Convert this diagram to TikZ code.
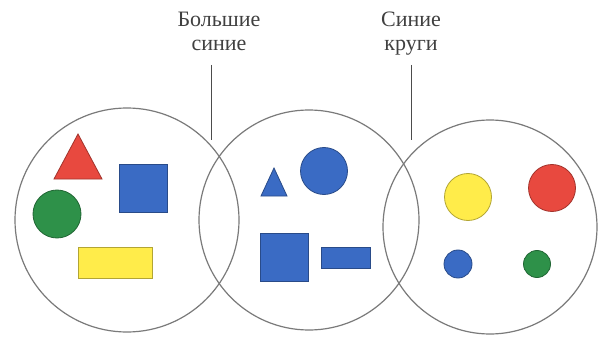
\documentclass[tikz,border=0pt]{standalone}
\usepackage{fontspec}
\setmainfont{Liberation Serif}
\usetikzlibrary{shapes.geometric}
\definecolor{cred}{HTML}{E8493F}
\definecolor{cblue}{HTML}{3A6BC4}
\definecolor{cgreen}{HTML}{2E9149}
\definecolor{cyellow}{HTML}{FFEC4A}
\definecolor{cgray}{HTML}{7A7A7A}
\tikzset{
  venn/.style={circle, draw=cgray, line width=1.2pt, inner sep=0pt, minimum size=#1},
  lab/.style={align=center, text=black!75, font=\fontsize{22}{23.5}\selectfont, inner sep=0pt},
  pin/.style={draw=black!70, line width=1pt},
  fshape/.style={draw=#1!70!black, fill=#1, line width=0.8pt, inner sep=0pt},
}
\begin{document}
\begin{tikzpicture}[x=1pt,y=-1pt]
\useasboundingbox (0,0) rectangle (598,337);
\fill[white] (0,0) rectangle (598,337);
% Venn circles
\node[venn=224pt] (c1) at (127,220) {};
\node[venn=220pt] (c2) at (309,220) {};
\node[venn=214pt] (c3) at (490,227) {};
% labels
\node[lab, anchor=north] (l1) at (219,12) {Большие\\синие};
\node[lab, anchor=north] (l2) at (411,12) {Синие\\круги};
\coordinate (p1) at (211,140);
\coordinate (p2) at (411,140);
\draw[pin] (211,65) -- (p1);
\draw[pin] (411,65) -- (p2);
% circle 1 shapes
\draw[fshape=cred] (78,134) -- (102,179) -- (54,179) -- cycle;
\node[rectangle, fshape=cblue, minimum width=48pt, minimum height=48pt] (s1) at (143,188) {};
\node[circle, fshape=cgreen, minimum size=48pt] (g1) at (57,214) {};
\node[rectangle, fshape=cyellow, minimum width=74pt, minimum height=31pt] (y1) at (115,262.5) {};
% circle 2 shapes
\draw[fshape=cblue] (274,168) -- (287,196) -- (261,196) -- cycle;
\node[circle, fshape=cblue, minimum size=47pt] (b2) at (324,171) {};
\node[rectangle, fshape=cblue, minimum width=48pt, minimum height=48pt] (s2) at (284,257) {};
\node[rectangle, fshape=cblue, minimum width=49pt, minimum height=21pt] (r2) at (345.5,257.5) {};
% circle 3 shapes
\node[circle, fshape=cyellow, minimum size=47pt] (y3) at (468,197) {};
\node[circle, fshape=cred, minimum size=47pt] (r3) at (552,188) {};
\node[circle, fshape=cblue, minimum size=28pt] (b3) at (458,264) {};
\node[circle, fshape=cgreen, minimum size=27pt] (g3) at (537,264) {};
\end{tikzpicture}
\end{document}
